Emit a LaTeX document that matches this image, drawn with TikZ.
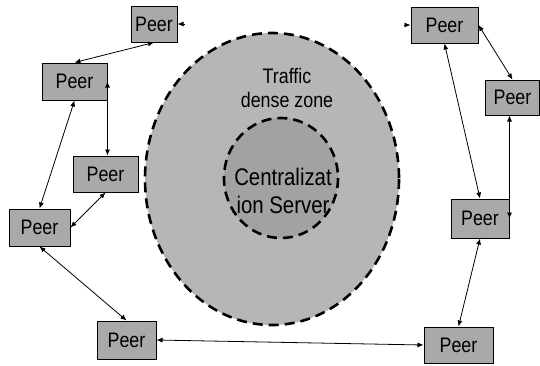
\documentclass[tikz,border=0pt]{standalone}
\usepackage{fontspec}
\setmainfont{Liberation Sans}
\newfontfamily\narrowfont[FakeStretch=0.85]{Liberation Sans}
\usetikzlibrary{arrows.meta,calc}
\definecolor{boxgray}{HTML}{A9A9A9}
\definecolor{zonegray}{HTML}{B6B6B6}
\definecolor{servergray}{HTML}{A2A2A2}
\tikzset{
  peer/.style={draw=black, line width=1pt, fill=boxgray, inner sep=0pt,
    font=\narrowfont\fontsize{21}{24}\selectfont},
  link/.style={line width=0.8pt, {Latex[length=6pt,width=5pt]}-{Latex[length=6pt,width=5pt]}},
  stub/.style={line width=0.8pt, -{Latex[length=6pt,width=5pt]}},
  zone/.style={draw=black, line width=2.6pt, dash pattern=on 10pt off 6pt},
  lbl/.style={align=center, inner sep=0pt}
}
\begin{document}
\begin{tikzpicture}[x=1pt,y=-1pt]
\useasboundingbox (0,0) rectangle (540,365);
% zones
\path[zone, fill=zonegray] (272,179) ellipse [x radius=127, y radius=146];
\path[zone, fill=servergray] (281,178) ellipse [x radius=57, y radius=60];
\node[lbl, font=\narrowfont\fontsize{21}{24}\selectfont] (zonetxt) at (287,88) {Traffic\\dense zone};
\node[lbl, font=\narrowfont\fontsize{24}{28}\selectfont] (srvtxt) at (283,191) {Centralizat\\ion Server};
% peers
\node[peer, minimum width=46pt, minimum height=36pt] (p1) at (154,24) {Peer};
\node[peer, minimum width=65pt, minimum height=37pt] (p2) at (74.5,81.5) {Peer};
\node[peer, minimum width=65pt, minimum height=36pt] (p3) at (105.5,174) {Peer};
\node[peer, minimum width=61pt, minimum height=37pt] (p4) at (39.5,227.5) {Peer};
\node[peer, minimum width=59pt, minimum height=38pt] (p5) at (126.5,340) {Peer};
\node[peer, minimum width=67pt, minimum height=36pt] (p6) at (444.5,25) {Peer};
\node[peer, minimum width=54pt, minimum height=35pt] (p7) at (512.5,97.5) {Peer};
\node[peer, minimum width=58pt, minimum height=39pt] (p8) at (480,218.5) {Peer};
\node[peer, minimum width=69pt, minimum height=36pt] (p9) at (458.5,345) {Peer};
% connectors
\draw[link] (p1.south) -- (p2.north);
\draw[link] (p2.east) -- (p3.north -| p2.east);
\draw[link] (p2.south) -- (p4.north);
\draw[link] (p3.south) -- (p4.east);
\draw[link] (p4.south) -- (p5.north);
\draw[link] (p5.east) -- (p9.west);
\draw[link] (p6.east) -- (p7.north);
\draw[link] (p6.south) -- (p8.north);
\draw[link] (p8.east |- p7.south) -- (p8.east);
\draw[link] (p8.south) -- (p9.north);
% dangling stubs
\coordinate (t1) at ($(p1.east)+(7,0)$);
\coordinate (t6) at ($(p6.west)+(-7,0)$);
\draw[stub] (t1) -- (p1.east);
\draw[stub] (t6) -- (p6.west);
\end{tikzpicture}
\end{document}
